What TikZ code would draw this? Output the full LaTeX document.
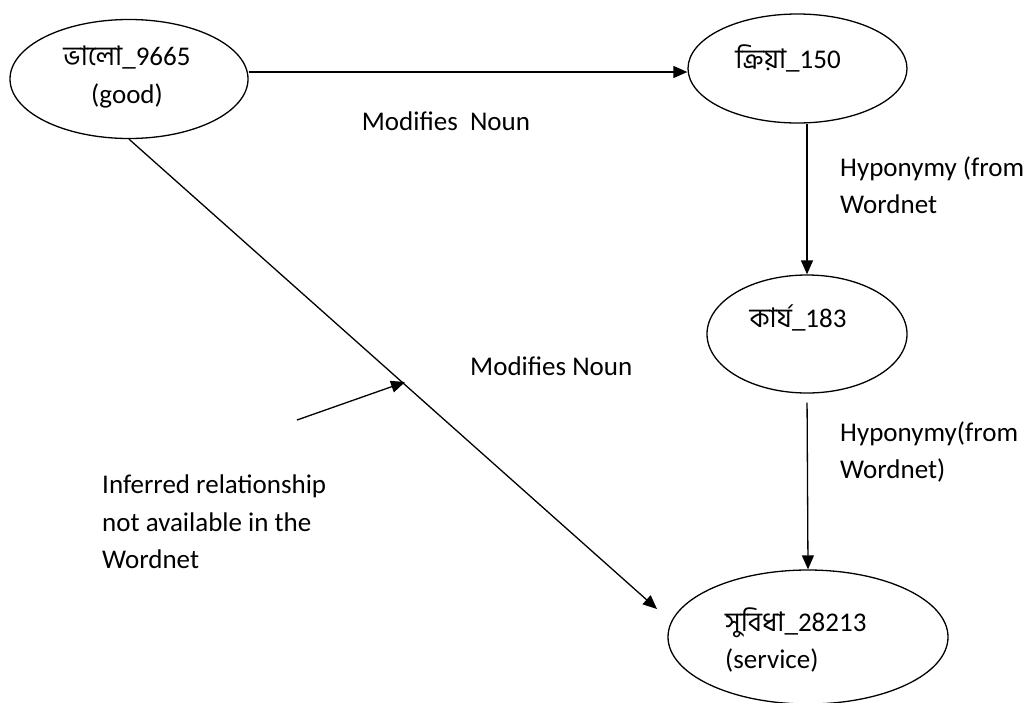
\documentclass[tikz,border=0pt]{standalone}
\usepackage{fontspec}
\setmainfont{Carlito}
\newfontfamily\bn[Script=Bengali]{Hind Siliguri}
\usetikzlibrary{arrows.meta,shapes.geometric}
\begin{document}
\begin{tikzpicture}[x=1pt,y=-1pt,
  every node/.style={font=\fontsize{27}{37.5}\selectfont, inner sep=0pt},
  oval/.style={draw, ellipse, line width=1.3pt},
  arr/.style={line width=1.3pt, -{Triangle[length=14pt,width=12pt]}},
  lbl/.style={align=left, anchor=west}]
\useasboundingbox (0,0) rectangle (1032,702);
% nodes (ellipses)
\node[oval, minimum width=238pt, minimum height=119pt] (n1) at (129,79) {};
\node[oval, minimum width=219pt, minimum height=109pt] (n2) at (797.5,68.5) {};
\node[oval, minimum width=200pt, minimum height=118pt] (n3) at (807,334) {};
\node[oval, minimum width=280pt, minimum height=134pt] (n4) at (808,637) {};
% node texts
\node[align=center] (t1) at (127,77) {{\bn ভালো}\_9665\\(good)};
\node (t2) at (788,58) {{\bn ক্রিয়া}\_150};
\node (t3) at (798,318) {{\bn কার্য}\_183};
\node[align=left, anchor=west] (t4) at (725,640) {{\bn সুবিধা}\_28213\\(service)};
% labels
\node (l1) at (446,121) {Modifies\ \ Noun};
\node[lbl] (l2) at (840,185) {Hyponymy (from\\Wordnet};
\node[lbl] (l3) at (840,452) {Hyponymy(from\\Wordnet)};
\node[lbl] (l4) at (470,366) {Modifies Noun};
\node[lbl] (l5) at (102,522) {Inferred relationship\\not available in the\\Wordnet};
% coordinates
\coordinate (dtip) at (657,609);
\coordinate (istart) at (297,420);
\coordinate (itip) at (405,382);
% connectors
\draw[arr] (n1.east |- 0,72) -- (n2.west |- 0,72);
\draw[arr] (n3.north |- n2.south) -- (n3.north);
\draw[arr, shorten <=9pt] (n3.south) -- (n4.north);
\draw[arr] (n1.south) -- (dtip);
\draw[arr] (istart) -- (itip);
\end{tikzpicture}
\end{document}
